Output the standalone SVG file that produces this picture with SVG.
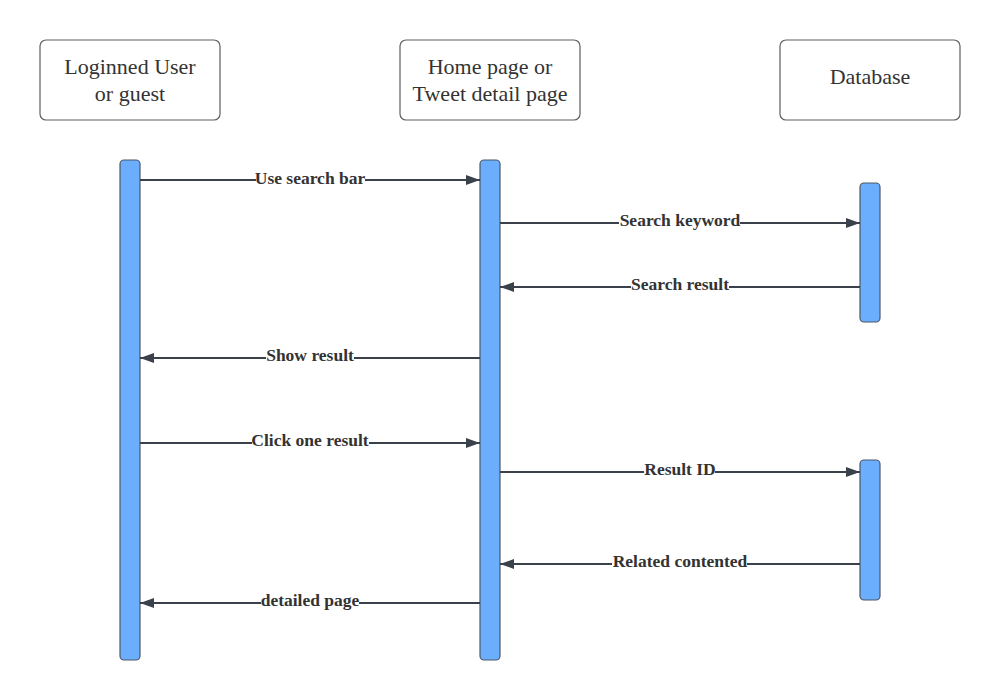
<svg xmlns="http://www.w3.org/2000/svg" width="1000" height="700" viewBox="0 0 1000 700">
<style>
.hdr{fill:#fff;stroke:#5e5e5e;stroke-width:1.2}
.ht{font-family:"Liberation Serif",serif;font-size:22px;fill:#333;text-anchor:middle}
.bar{fill:#6aaefd;stroke:#4d5866;stroke-width:1.2}
.ln{stroke:#3a414b;stroke-width:2;fill:none}
.lb{font-family:"Liberation Serif",serif;font-weight:bold;font-size:17.5px;fill:#333;text-anchor:middle}
.bg{fill:#fff}
</style>
<defs>
<marker id="ah" viewBox="0 0 14 10" refX="14" refY="5" markerWidth="14" markerHeight="10" markerUnits="userSpaceOnUse" orient="auto">
<path d="M0,0 L14,5 L0,10 Z" fill="#3a414b"/>
</marker>
</defs>
<rect width="1000" height="700" fill="#fff"/>
<g id="user">
<rect class="hdr" x="40" y="40" width="180" height="80" rx="6"/>
<text class="ht" x="130" y="74">Loginned User</text>
<text class="ht" x="130" y="101">or guest</text>
<rect class="bar" x="120" y="160" width="20" height="500" rx="4"/>
</g>
<g id="page">
<rect class="hdr" x="400" y="40" width="180" height="80" rx="6"/>
<text class="ht" x="490" y="74">Home page or</text>
<text class="ht" x="490" y="101">Tweet detail page</text>
<rect class="bar" x="480" y="160" width="20" height="500" rx="4"/>
</g>
<g id="db">
<rect class="hdr" x="780" y="40" width="180" height="80" rx="6"/>
<text class="ht" x="870" y="84">Database</text>
<rect class="bar" x="860" y="183" width="20" height="139" rx="4"/>
<rect class="bar" x="860" y="460" width="20" height="140" rx="4"/>
</g>
<g id="connectors">
<line class="ln" x1="140" y1="180" x2="480" y2="180" marker-end="url(#ah)"/>
<rect class="bg" x="256" y="170" width="109" height="18"/>
<text class="lb" x="310" y="184">Use search bar</text>
<line class="ln" x1="500" y1="223" x2="860" y2="223" marker-end="url(#ah)"/>
<rect class="bg" x="619" y="212" width="121" height="18"/>
<text class="lb" x="680" y="226">Search keyword</text>
<line class="ln" x1="860" y1="287" x2="500" y2="287" marker-end="url(#ah)"/>
<rect class="bg" x="631" y="276" width="98" height="18"/>
<text class="lb" x="680" y="290">Search result</text>
<line class="ln" x1="480" y1="358" x2="140" y2="358" marker-end="url(#ah)"/>
<rect class="bg" x="266" y="347" width="88" height="18"/>
<text class="lb" x="310" y="361">Show result</text>
<line class="ln" x1="140" y1="443" x2="480" y2="443" marker-end="url(#ah)"/>
<rect class="bg" x="252" y="432" width="117" height="18"/>
<text class="lb" x="310" y="446">Click one result</text>
<line class="ln" x1="500" y1="472" x2="860" y2="472" marker-end="url(#ah)"/>
<rect class="bg" x="644" y="461" width="71" height="18"/>
<text class="lb" x="680" y="475">Result ID</text>
<line class="ln" x1="860" y1="564" x2="500" y2="564" marker-end="url(#ah)"/>
<rect class="bg" x="612" y="553" width="135" height="18"/>
<text class="lb" x="680" y="567">Related contented</text>
<line class="ln" x1="480" y1="603" x2="140" y2="603" marker-end="url(#ah)"/>
<rect class="bg" x="261" y="592" width="98" height="18"/>
<text class="lb" x="310" y="606">detailed page</text>
</g>
</svg>
